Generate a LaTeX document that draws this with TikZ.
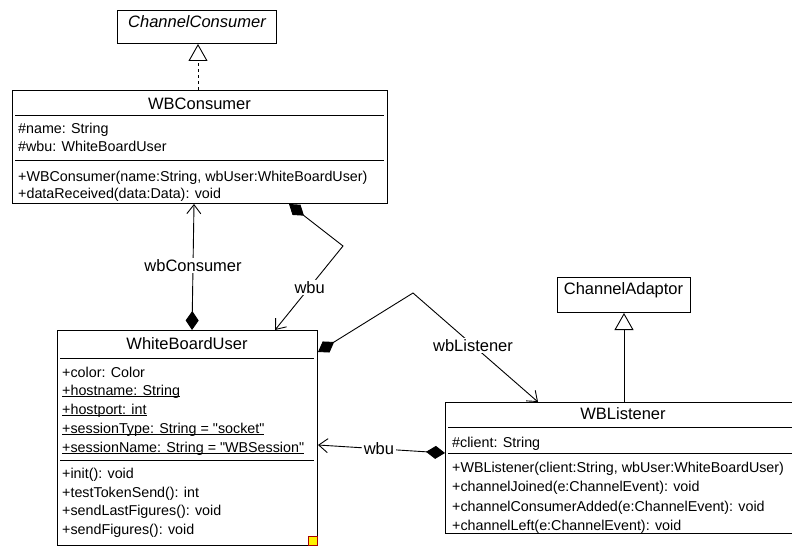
\documentclass[tikz,border=0pt]{standalone}
\usepackage{fontspec}
\setmainfont{Liberation Sans}[Ligatures=TeXOff]
\usetikzlibrary{arrows.meta}
% static members are underlined just below the baseline
\newsavebox\staticbox
\newcommand\staticmember[1]{\sbox\staticbox{#1}\rlap{\rule[-1.8bp]{\wd\staticbox}{0.9bp}}\usebox\staticbox}

\begin{document}
\begin{tikzpicture}[x=1bp,y=-1bp,
  classbox/.style={draw, line width=1bp, anchor=north west, inner sep=0},
  compline/.style={line width=1bp},
  classname/.style={anchor=base, inner sep=0, font=\fontsize{16.5bp}{20bp}\selectfont},
  member/.style={anchor=base west, inner sep=0, font=\fontsize{14.3bp}{17bp}\selectfont},
  rolelabel/.style={fill=white, inner sep=1.5bp, font=\fontsize{16.5bp}{20bp}\selectfont},
  assoc/.style={line width=0.9bp, {Diamond[length=19bp,width=13bp]}-{Straight Barb[length=9bp,width=14bp]}},
  inherit/.style={line width=0.9bp, -{Triangle[open, length=17bp, width=19bp, fill=white]}},
]
\useasboundingbox (0,0) rectangle (792,546);

% ---- ChannelConsumer (interface) ----
\node[classbox, minimum width=159bp, minimum height=33bp] (cc) at (117,10) {};
\node[classname, font={\fontsize{16.5bp}{20bp}\selectfont\itshape}] (ccname) at (197,27.5) {ChannelConsumer};

% ---- WBConsumer ----
\node[classbox, minimum width=375bp, minimum height=113bp] (wbc) at (12,90) {};
\node[classname] (wbcname) at (199.5,110) {WBConsumer};
\draw[compline] (15,116) -- (384,116);
\draw[compline] (15,161) -- (384,161);
\node[member] (wbca1) at (18,133.4) {\#name: String};
\node[member] (wbca2) at (18,151.8) {\#wbu: WhiteBoardUser};
\node[member] (wbcm1) at (18,181.5) {+WBConsumer(name:String, wbUser:WhiteBoardUser)};
\node[member] (wbcm2) at (18,198.4) {+dataReceived(data:Data): void};

% ---- ChannelAdaptor ----
\node[classbox, minimum width=133bp, minimum height=35bp] (ca) at (557,277) {};
\node[classname] (caname) at (623.5,295) {ChannelAdaptor};

% ---- WhiteBoardUser ----
\node[classbox, minimum width=260bp, minimum height=215bp] (wbu) at (57,330) {};
\node[classname] (wbuname) at (187,349) {WhiteBoardUser};
\draw[compline] (60,358) -- (314,358);
\draw[compline] (60,460) -- (314,460);
\node[member] (wbua1) at (62,377) {+color: Color};
\node[member] (wbua2) at (62,395.5) {\staticmember{+hostname: String}};
\node[member] (wbua3) at (62,414) {\staticmember{+hostport: int}};
\node[member] (wbua4) at (62,433) {\staticmember{+sessionType: String = "socket"}};
\node[member] (wbua5) at (62,452) {\staticmember{+sessionName: String = "WBSession"}};
\node[member] (wbum1) at (62,478.5) {+init(): void};
\node[member] (wbum2) at (62,497) {+testTokenSend(): int};
\node[member] (wbum3) at (62,515.5) {+sendLastFigures(): void};
\node[member] (wbum4) at (62,534.5) {+sendFigures(): void};
\draw[draw=red!65!black, fill=yellow, line width=0.8bp] (308,536) rectangle (317,545);

% ---- WBListener ----
\node[classbox, minimum width=356bp, minimum height=131bp] (wbl) at (445,402) {};
\node[classname] (wblname) at (623,419) {WBListener};
\draw[compline] (448,427.5) -- (800,427.5);
\draw[compline] (448,453.5) -- (800,453.5);
\node[member] (wbla1) at (452,447) {\#client: String};
\node[member] (wblm1) at (452,472) {+WBListener(client:String, wbUser:WhiteBoardUser)};
\node[member] (wblm2) at (452,491.5) {+channelJoined(e:ChannelEvent): void};
\node[member] (wblm3) at (452,511) {+channelConsumerAdded(e:ChannelEvent): void};
\node[member] (wblm4) at (452,530) {+channelLeft(e:ChannelEvent): void};

% ---- realization and generalization ----
\draw[inherit, dash pattern=on 3bp off 3bp] (198,0 |- wbc.north) -- (198,0 |- cc.south);
\draw[inherit] (624,0 |- wbl.north) -- (624,0 |- ca.south);

% ---- associations ----
\draw[assoc] (192,0 |- wbu.north) -- node[rolelabel, pos=0.51] (lblwbc) {wbConsumer} (194,0 |- wbc.south);

\coordinate (bendA) at (343,246);
\draw[assoc] (289,0 |- wbc.south) -- (bendA) -- node[rolelabel, pos=0.49] (lblwbuA) {wbu} (275,0 |- wbu.north);

\coordinate (bendB) at (413,293);
\draw[assoc] (wbu.east |- 0,352) -- (bendB) -- node[rolelabel, pos=0.48] (lblwbl) {wbListener} (538,0 |- wbl.north);

\draw[assoc] (wbl.west |- 0,453) -- node[rolelabel, pos=0.52] (lblwbuB) {wbu} (wbu.east |- 0,445);
\end{tikzpicture}
\end{document}
